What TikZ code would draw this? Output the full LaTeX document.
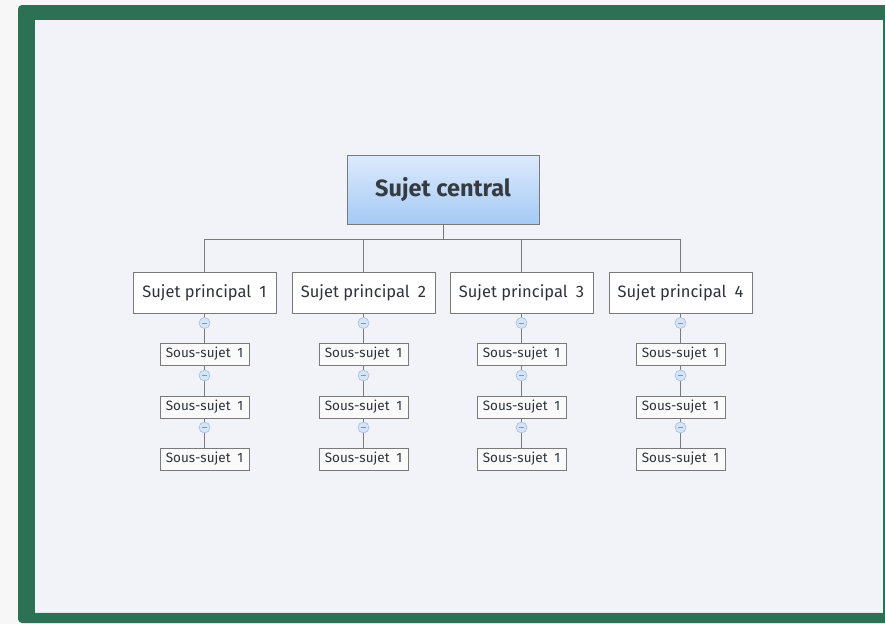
\documentclass[tikz,border=0pt]{standalone}
\usepackage{fontspec}
\setmainfont{Fira Sans}
\definecolor{bgout}{HTML}{F6F7F6}
\definecolor{frame}{HTML}{2C7154}
\definecolor{inner}{HTML}{F2F3F8}
\definecolor{linec}{HTML}{7A7A7A}
\definecolor{txt}{HTML}{2E333B}
\definecolor{gtop}{HTML}{DCEAFC}
\definecolor{gbot}{HTML}{A4CAF5}
\definecolor{knobf}{HTML}{D6E4F8}
\definecolor{knobd}{HTML}{9FBDE6}
\tikzset{
  central/.style={draw=linec, line width=0.8pt, top color=gtop, bottom color=gbot,
    minimum width=192pt, minimum height=69pt, inner sep=0pt,
    font=\fontsize{23.5}{27}\selectfont\bfseries, text=txt!90!gray},
  mainbox/.style={draw=linec, line width=0.7pt, fill=white, minimum width=143pt,
    minimum height=41pt, inner sep=0pt, font=\fontsize{16.5}{19}\selectfont, text=txt},
  subbox/.style={draw=linec, line width=0.7pt, fill=white!96!gray, minimum width=89pt,
    minimum height=22pt, inner sep=0pt, font=\fontsize{13.5}{16}\selectfont, text=txt},
  conn/.style={draw=linec, line width=0.8pt},
  knob/.style={circle, draw=knobd, fill=knobf, line width=0.6pt, minimum size=11pt, inner sep=0pt}
}
\begin{document}
\begin{tikzpicture}[x=1pt,y=-1pt]
\useasboundingbox (0,0) rectangle (885,624);
\fill[bgout] (0,0) rectangle (885,624);
\fill[frame, rounded corners=4pt] (18,5) rectangle (893,623);
\fill[inner] (35,20) rectangle (883,612);
\draw[white!80!gray, line width=0.8pt] (35,612.4) -- (883,612.4);

\node[central] (c) at (443,189.5) {Sujet central};
\coordinate (cj) at (443,239);
\draw[conn] (c.south) -- (cj);

\foreach \i/\x in {1/204.5,2/363.5,3/521.5,4/680.5}{
  \node[mainbox] (m\i) at (\x,292.5) {Sujet principal\enspace\i};
  \draw[conn] (cj) -| (m\i.north);
  \node[subbox] (s\i a) at (\x,354) {Sous-sujet\enspace1};
  \node[subbox] (s\i b) at (\x,407) {Sous-sujet\enspace1};
  \node[subbox] (s\i c) at (\x,459) {Sous-sujet\enspace1};
  \draw[conn] (m\i.south) -- (s\i a.north);
  \draw[conn] (s\i a.south) -- (s\i b.north);
  \draw[conn] (s\i b.south) -- (s\i c.north);
  \node[knob] (k\i a) at (\x,323) {};
  \node[knob] (k\i b) at (\x,375.5) {};
  \node[knob] (k\i c) at (\x,427.5) {};
  \foreach \k in {a,b,c}{
    \draw[knobd!80!black, line width=0.6pt] ([xshift=-2.5pt]k\i\k.center) -- ([xshift=2.5pt]k\i\k.center);
  }
}
\end{tikzpicture}
\end{document}
